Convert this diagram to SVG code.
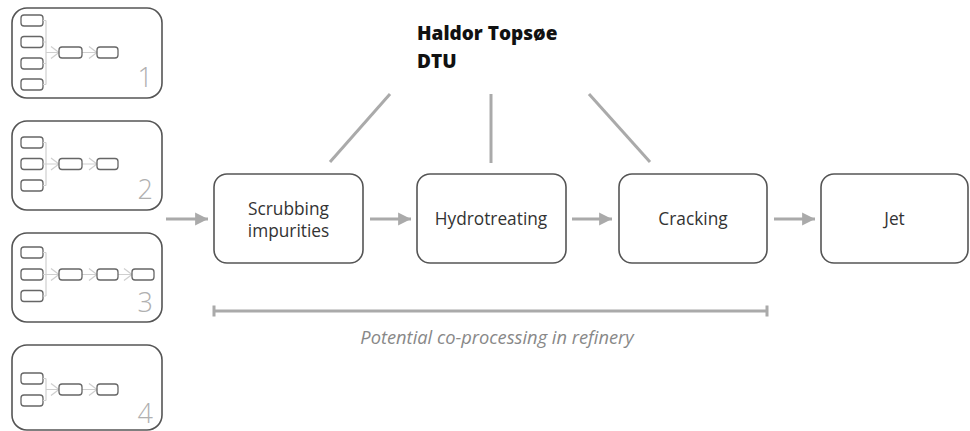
<svg xmlns="http://www.w3.org/2000/svg" width="970" height="431" viewBox="0 0 970 431">
<defs>
<style>
.panel{fill:#fff;stroke:#555;stroke-width:1.6}
.sb{fill:#fff;stroke:#666;stroke-width:1.3}
.sl{fill:none;stroke:#cfcfcf;stroke-width:1.2}
.num{font-family:"Open Sans","Noto Sans",sans-serif;font-weight:300;font-size:27px;fill:#b0b0b0;text-anchor:end}
.box{fill:#fff;stroke:#555;stroke-width:1.6}
.lbl{font-family:"Open Sans","Noto Sans",sans-serif;font-size:17.3px;fill:#333;text-anchor:middle}
.conn{stroke:#aaa;stroke-width:3;fill:none}
.ttl{font-family:"Open Sans","Noto Sans",sans-serif;font-weight:800;font-size:19px;fill:#111}
.cap{font-family:"Open Sans","Noto Sans",sans-serif;font-style:italic;font-size:18.3px;fill:#888;text-anchor:middle}
</style>
<marker id="ah" viewBox="0 0 10 10" refX="10" refY="5" markerWidth="4.3" markerHeight="7" markerUnits="strokeWidth" orient="auto">
<path d="M0,0 L10,5 L0,10 Z" fill="#aaa"/>
</marker>
</defs>

<g id="panel1">
<rect class="panel" x="12" y="8" width="150" height="90" rx="15"/>
<rect class="sb" x="21" y="15" width="22" height="11" rx="3"/>
<rect class="sb" x="21" y="36.5" width="22" height="11" rx="3"/>
<rect class="sb" x="21" y="58" width="22" height="11" rx="3"/>
<rect class="sb" x="21" y="79" width="22" height="11" rx="3"/>
<path class="sl" d="M43,20.5H46M43,42H46M43,63.5H46M43,84.5H46M46,20.5V84.5M46,52.5H59M51,46.5L59,52.5L51,58.5M82,52.5H97M89,46.5L97,52.5L89,58.5"/>
<rect class="sb" x="59" y="47" width="23" height="11" rx="3"/>
<rect class="sb" x="97" y="47" width="21" height="11" rx="3"/>
<text class="num" x="153" y="87">1</text>
</g>

<g id="panel2">
<rect class="panel" x="12" y="121" width="150" height="89" rx="15"/>
<rect class="sb" x="21" y="137" width="22" height="11" rx="3"/>
<rect class="sb" x="21" y="158.5" width="22" height="11" rx="3"/>
<rect class="sb" x="21" y="180" width="22" height="11" rx="3"/>
<path class="sl" d="M43,142.5H46M43,185.5H46M46,142.5V185.5M43,164H59M51,158L59,164L51,170M82,164H97M89,158L97,164L89,170"/>
<rect class="sb" x="59" y="158.5" width="23" height="11" rx="3"/>
<rect class="sb" x="97" y="158.5" width="21" height="11" rx="3"/>
<text class="num" x="153" y="199">2</text>
</g>

<g id="panel3">
<rect class="panel" x="12" y="233" width="150" height="89" rx="15"/>
<rect class="sb" x="21" y="247" width="22" height="11" rx="3"/>
<rect class="sb" x="21" y="269" width="22" height="11" rx="3"/>
<rect class="sb" x="21" y="290.5" width="22" height="11" rx="3"/>
<path class="sl" d="M43,252.5H46M43,296H46M46,252.5V296M43,274.5H59M51,268.5L59,274.5L51,280.5M82,274.5H97M89,268.5L97,274.5L89,280.5M118,274.5H132M124,268.5L132,274.5L124,280.5"/>
<rect class="sb" x="59" y="269" width="23" height="11" rx="3"/>
<rect class="sb" x="97" y="269" width="21" height="11" rx="3"/>
<rect class="sb" x="132" y="269" width="22" height="11" rx="3"/>
<text class="num" x="153" y="312">3</text>
</g>

<g id="panel4">
<rect class="panel" x="12" y="345" width="150" height="85" rx="15"/>
<rect class="sb" x="21" y="373" width="22" height="11" rx="3"/>
<rect class="sb" x="21" y="395" width="22" height="11" rx="3"/>
<path class="sl" d="M43,378.5H46M43,400.5H46M46,378.5V400.5M46,389.5H59M51,383.5L59,389.5L51,395.5M82,389.5H97M89,383.5L97,389.5L89,395.5"/>
<rect class="sb" x="59" y="384" width="23" height="11" rx="3"/>
<rect class="sb" x="97" y="384" width="21" height="11" rx="3"/>
<text class="num" x="153" y="423">4</text>
</g>

<g id="scrubbing">
<rect class="box" x="214" y="174" width="149" height="89" rx="13"/>
<text class="lbl" x="288.5" y="215">Scrubbing</text>
<text class="lbl" x="288.5" y="237">impurities</text>
</g>
<g id="hydrotreating">
<rect class="box" x="417" y="174" width="149" height="89" rx="13"/>
<text class="lbl" x="491" y="225">Hydrotreating</text>
</g>
<g id="cracking">
<rect class="box" x="619" y="174" width="148" height="89" rx="13"/>
<text class="lbl" x="693" y="225">Cracking</text>
</g>
<g id="jet">
<rect class="box" x="821" y="174" width="147" height="89" rx="13"/>
<text class="lbl" x="894.5" y="225">Jet</text>
</g>

<g id="partners">
<text class="ttl" x="417" y="40">Haldor Topsøe</text>
<text class="ttl" x="417" y="68">DTU</text>
</g>

<g id="connectors">
<line class="conn" x1="166" y1="219" x2="208" y2="219" marker-end="url(#ah)"/>
<line class="conn" x1="370" y1="219" x2="411" y2="219" marker-end="url(#ah)"/>
<line class="conn" x1="572" y1="219" x2="612" y2="219" marker-end="url(#ah)"/>
<line class="conn" x1="774" y1="219" x2="815" y2="219" marker-end="url(#ah)"/>
<line class="conn" stroke-width="2.5" x1="390" y1="94" x2="330" y2="162"/>
<line class="conn" stroke-width="2.5" x1="491" y1="94" x2="491" y2="163"/>
<line class="conn" stroke-width="2.5" x1="589" y1="94" x2="650" y2="162"/>
</g>

<g id="range">
<path class="conn" stroke-width="2.5" d="M214,311H767M214,305.5V316.5M767,305.5V316.5"/>
<text class="cap" x="497" y="344">Potential co-processing in refinery</text>
</g>
</svg>
